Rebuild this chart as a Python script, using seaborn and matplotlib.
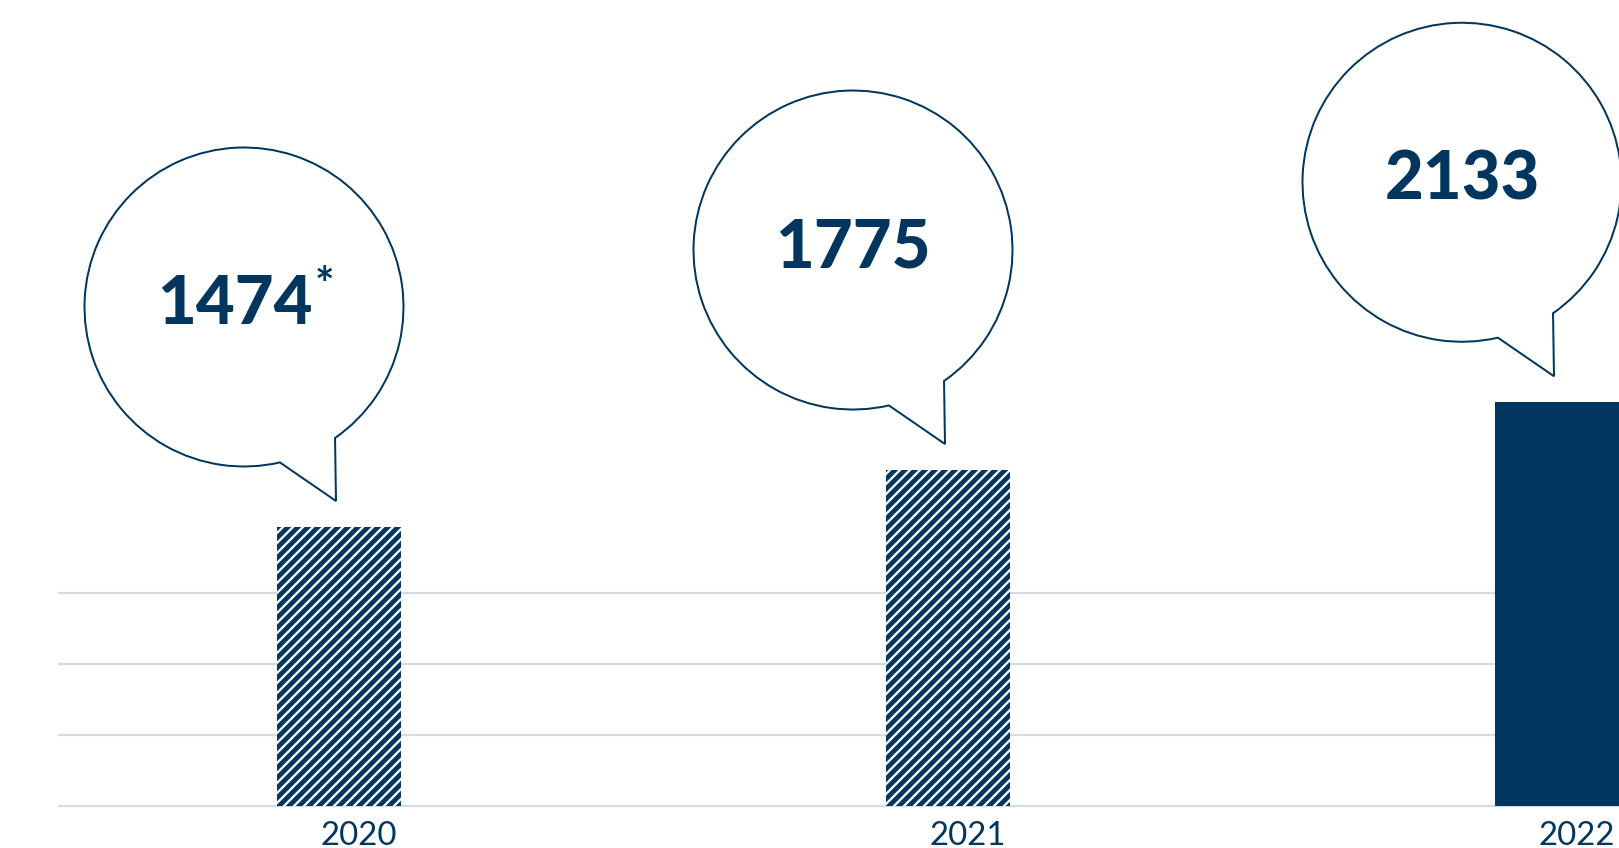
import numpy as np
import pandas as pd
import matplotlib
matplotlib.use("Agg")
import matplotlib.pyplot as plt
import seaborn as sns
from matplotlib.path import Path
from matplotlib.patches import PathPatch
from matplotlib.transforms import ScaledTranslation

# ---- data ----
years = ["2020", "2021", "2022"]
values = [1474, 1775, 2133]
footnotes = ["*", "", ""]
hatches = ["////", "////", ""]
grid_values = [0, 375, 750, 1125]

# ---- style ----
NAVY = "#02365E"
GRID = "#D3DBE3"

W, H, DPI = 1619, 848, 120


def pt(px):
    """pixels -> points at the figure dpi"""
    return px * 72.0 / DPI


sns.set_theme(style="white")
plt.rcParams["font.family"] = ["Lato", "DejaVu Sans"]
plt.rcParams["hatch.color"] = "white"
plt.rcParams["hatch.linewidth"] = pt(2.3)

fig = plt.figure(figsize=(W / DPI, H / DPI), dpi=DPI)
left_px = 58
ax = fig.add_axes([left_px / W, 0, (W - left_px) / W, 1])

df = pd.DataFrame({"year": years, "value": values})
sns.barplot(data=df, x="year", y="value", color=NAVY, saturation=1,
            width=124 / 609, linewidth=0, ax=ax, zorder=3)

for patch, h in zip(ax.patches, hatches):
    patch.set_edgecolor("white")
    patch.set_linewidth(0)
    if h:
        patch.set_hatch(h)

# scales
px_per_unit = 279 / 1474
ax.set_ylim(-42 / px_per_unit, 806 / px_per_unit)
ax.set_xlim(-(339 - left_px) / 609, 2 + (W - 1557) / 609)

# grid
ax.set_yticks(grid_values)
ax.yaxis.grid(True, color=GRID, linewidth=pt(2.2))
ax.xaxis.grid(False)
ax.set_axisbelow(True)
ax.tick_params(axis="y", left=False, labelleft=False)
for s in ax.spines.values():
    s.set_visible(False)
ax.set_xlabel("")
ax.set_ylabel("")

# year labels (slightly right of bar centers as in the original)
ax.set_xticks(np.arange(len(years)) + 20 / 609, labels=years)
ax.tick_params(axis="x", length=0, pad=pt(-27), labelsize=pt(33),
               labelcolor=NAVY)

# speech bubbles
r = 159.5
cx, cy = -95, 220
arc = Path.arc(-55.2, 283.0)
verts = arc.vertices * r + np.array([cx, cy])
tip = np.array([[cx + 92, cy - 194], [0, 0]])
verts = np.vstack([verts, tip])
codes = list(arc.codes) + [Path.LINETO, Path.CLOSEPOLY]
bubble_path = Path(verts, codes)

for i, (v, fn) in enumerate(zip(values, footnotes)):
    trans = ScaledTranslation(i, v, ax.transData)
    bp = PathPatch(bubble_path, transform=trans, facecolor="white",
                   edgecolor=NAVY, linewidth=pt(2.0), clip_on=False, zorder=4)
    ax.add_patch(bp)
    shift = 9 if fn else 0
    t = ax.annotate(f"{v}", xy=(i, v), xytext=(cx - shift, cy - 17),
                    textcoords="offset pixels", ha="center", va="baseline",
                    fontsize=pt(67), fontweight="black", color=NAVY, zorder=5,
                    annotation_clip=False)
    if fn:
        ax.annotate(fn, xy=(1, 1), xycoords=t, xytext=(2, 8),
                    textcoords="offset pixels", ha="left", va="top",
                    fontsize=pt(46), fontweight="bold", color=NAVY, zorder=5,
                    annotation_clip=False)

fig.savefig("out.png", dpi=DPI)
